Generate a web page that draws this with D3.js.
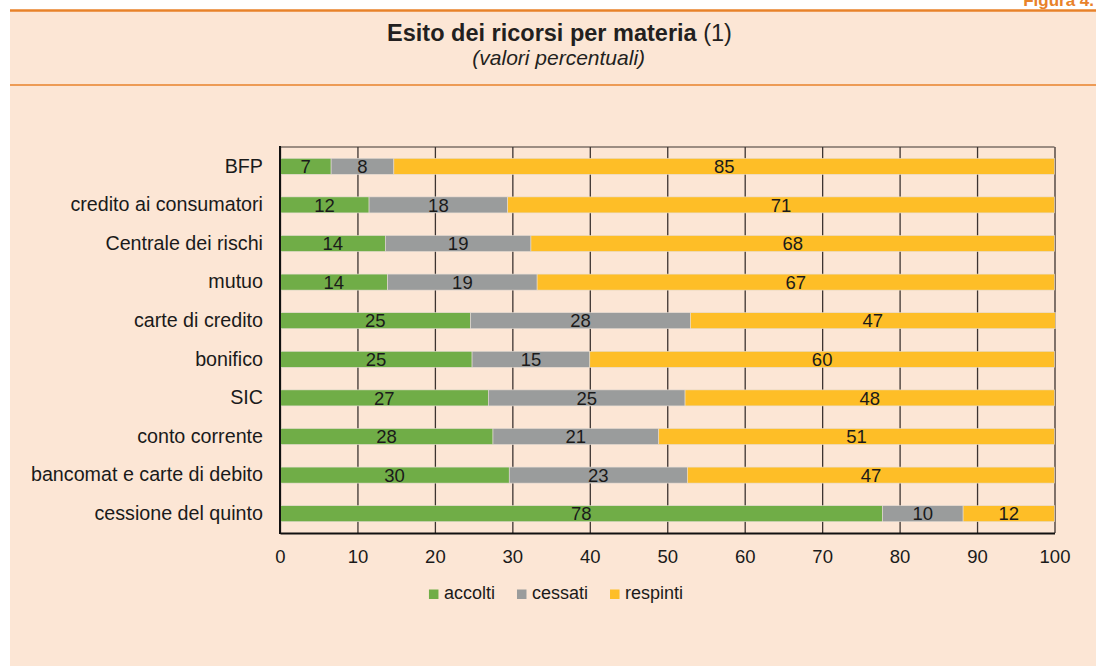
<!DOCTYPE html>
<html>
<head>
<meta charset="utf-8">
<script src="https://cdn.jsdelivr.net/npm/d3@7"></script>
<style>
  html, body { margin: 0; padding: 0; background: #ffffff; }
  svg { display: block; font-family: "Liberation Sans", Arial, sans-serif; }
</style>
</head>
<body>
<svg id="chart" width="1096" height="666"></svg>
<script>
// ---- data ----
const categories = ["BFP", "credito ai consumatori", "Centrale dei rischi", "mutuo", "carte di credito",
  "bonifico", "SIC", "conto corrente", "bancomat e carte di debito", "cessione del quinto"];
const seriesNames = ["accolti", "cessati", "respinti"];
const accolti  = [6.6, 11.5, 13.6, 13.9, 24.6, 24.8, 26.9, 27.5, 29.6, 77.8];
const cessati  = [8.1, 17.9, 18.8, 19.3, 28.4, 15.2, 25.4, 21.4, 23.0, 10.4];
const respinti = [85.3, 70.6, 67.6, 66.8, 47.1, 60.0, 47.7, 51.1, 47.4, 11.8];
const xTicks = [0, 10, 20, 30, 40, 50, 60, 70, 80, 90, 100];
const titleText = "Esito dei ricorsi per materia";
const titleNote = " (1)";
const subtitleText = "(valori percentuali)";
const figureLabel = "Figura 4.";

const colors = { accolti: "#70ad47", cessati: "#9a9c9c", respinti: "#febe27" };

const rows = categories.map((c, i) => ({ cat: c, accolti: accolti[i], cessati: cessati[i], respinti: respinti[i] }));

const svg = d3.select("#chart");

// page background / panel
svg.append("rect").attr("x", 0).attr("y", 0).attr("width", 1096).attr("height", 666).attr("fill", "#ffffff");
svg.append("rect").attr("x", 10).attr("y", 10).attr("width", 1086).attr("height", 656).attr("fill", "#fce6d5");
svg.append("line").attr("x1", 10).attr("x2", 1096).attr("y1", 10.5).attr("y2", 10.5)
  .attr("stroke", "#e8822a").attr("stroke-width", 2.5);
svg.append("line").attr("x1", 10).attr("x2", 1096).attr("y1", 85).attr("y2", 85)
  .attr("stroke", "#e8822a").attr("stroke-width", 1.6);
svg.append("text").attr("x", 1094).attr("y", 6).attr("text-anchor", "end")
  .attr("font-size", 17).attr("font-weight", "bold").attr("fill", "#e8822a").text(figureLabel);

// title
const title = svg.append("text").attr("x", 559.5).attr("y", 41).attr("text-anchor", "middle")
  .attr("font-size", 23.5).attr("fill", "#231f20");
title.append("tspan").attr("font-weight", "bold").text(titleText);
title.append("tspan").text(titleNote);
svg.append("text").attr("x", 558.7).attr("y", 65).attr("text-anchor", "middle")
  .attr("font-size", 21).attr("font-style", "italic").attr("fill", "#231f20").text(subtitleText);

// scales
const x = d3.scaleLinear().domain([0, 100]).range([280, 1054.5]);
const y = d3.scaleBand().domain(categories).range([147, 533]).paddingInner(0.585).paddingOuter(0.2925);

// gridlines
const grid = svg.append("g").attr("transform", "translate(0,533)")
  .call(d3.axisBottom(x).tickValues(xTicks).tickSize(-386).tickFormat(""));
grid.select(".domain").remove();
grid.selectAll(".tick line").attr("stroke", "#3d3431").attr("stroke-width", 1.3);

// top border of plot
svg.append("line").attr("x1", x(0)).attr("x2", x(100)).attr("y1", 147).attr("y2", 147)
  .attr("stroke", "#3d3431").attr("stroke-width", 1.2);

// stacked bars
const stack = d3.stack().keys(seriesNames);
const stacked = stack(rows);
const layers = svg.append("g").selectAll("g").data(stacked).join("g")
  .attr("fill", d => colors[d.key]);
layers.selectAll("rect").data(d => d).join("rect")
  .attr("x", d => x(d[0]))
  .attr("width", d => x(d[1]) - x(d[0]))
  .attr("y", d => y(d.data.cat))
  .attr("height", y.bandwidth())
  .attr("stroke", "#e6ddd5").attr("stroke-width", 0.6);

// value labels
const labG = svg.append("g").attr("font-size", 18.5).attr("fill", "#1a1a1a").attr("text-anchor", "middle");
stacked.forEach(layer => {
  labG.selectAll(null).data(layer).join("text")
    .attr("x", d => (x(d[0]) + x(d[1])) / 2)
    .attr("y", d => y(d.data.cat) + y.bandwidth() / 2)
    .attr("dy", "0.36em")
    .text(d => Math.round(d[1] - d[0]));
});

// axes lines
svg.append("line").attr("x1", x(0)).attr("x2", x(0)).attr("y1", 146).attr("y2", 534)
  .attr("stroke", "#111").attr("stroke-width", 2);
const xAxis = svg.append("g").attr("transform", "translate(0,533)")
  .call(d3.axisBottom(x).tickValues(xTicks).tickSize(0).tickPadding(17).tickFormat(d3.format("d")));
xAxis.select(".domain").attr("stroke", "#111").attr("stroke-width", 2);
xAxis.selectAll("text").attr("font-size", 18.5).attr("fill", "#1a1a1a")
  .attr("font-family", "'Liberation Sans', Arial, sans-serif");

// category axis labels
const yAxis = svg.append("g").attr("transform", "translate(263,0)")
  .call(d3.axisLeft(y).tickSize(0).tickPadding(0));
yAxis.select(".domain").remove();
yAxis.selectAll("text").attr("font-size", 19.7).attr("fill", "#1a1a1a")
  .attr("font-family", "'Liberation Sans', Arial, sans-serif");

// legend
const legend = svg.append("g");
const items = legend.selectAll("g").data(seriesNames).join("g");
items.append("rect").attr("width", 9.5).attr("height", 9.5).attr("y", -9.5).attr("fill", d => colors[d]);
items.append("text").attr("x", 15).attr("font-size", 18).attr("fill", "#1a1a1a").text(d => d);
let cx = 0;
const pos = [];
items.each(function () {
  const w = 15 + this.querySelector("text").getComputedTextLength();
  pos.push(cx);
  cx += w + 22;
});
const totalW = cx - 22;
const startX = 556 - totalW / 2;
items.attr("transform", (d, i) => `translate(${startX + pos[i]},599)`);
</script>
</body>
</html>
